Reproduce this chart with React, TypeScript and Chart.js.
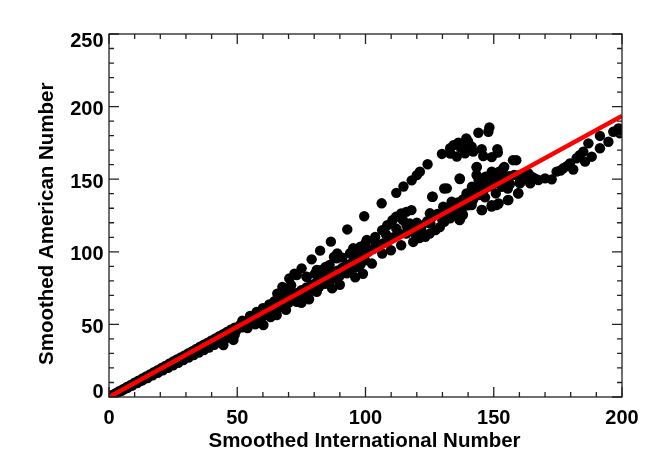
import React, { useEffect, useRef } from "react";
import { Chart, registerables } from "chart.js";

Chart.register(...registerables);

// ---- axis ranges and tick labels ----
const xRange = [0, 200];
const yRange = [0, 250];
const xTickLabels = ["0", "50", "100", "150", "200"];
const yTickLabels = ["0", "50", "100", "150", "200", "250"];
const xTitle = "Smoothed International Number";
const yTitle = "Smoothed American Number";

// ---- fitted line (red) ----
const fitX = [0, 200];
const fitY = [0, 193.5];

// ---- scatter points ----
const bandLow: [number, number][] = [
  [1, 1.1], [2.5, 2.5], [4, 4], [5.5, 5.4], [7, 6.9], [8.5, 8.3], [10, 9.8], [11.5, 11.3],
  [13, 12.7], [14.5, 14.2], [16, 15.6], [17.5, 17.1], [19, 18.5], [20.5, 20], [22, 21.4],
  [23.5, 22.9], [25, 24.4], [26.5, 25.8], [28, 27.3], [29.5, 28.7], [31, 30.2], [32.5, 31.6],
  [34, 33.1], [35.5, 34.6], [37, 36], [38.5, 37.4], [40, 38.9], [41.5, 40.4], [43, 41.9],
  [44.5, 43.3], [46, 44.8], [47.5, 46.3], [49, 47.7],
  [1.5, 1.2], [3, 2.7], [4.5, 4.1], [6, 5.5], [7.5, 6.8], [9, 8.2], [10.5, 9.6], [12, 11],
  [13.5, 12.3], [15, 13.7], [16.5, 15.1], [18, 16.5], [19.5, 17.8], [21, 19.2], [22.5, 20.6],
  [24, 22], [25.5, 23.3], [27, 24.7], [28.5, 26.1], [30, 27.5], [31.5, 28.8], [33, 30.2],
  [34.5, 31.6], [36, 33], [37.5, 34.3], [39, 35.7], [40.5, 37.1], [42, 38.4], [43.5, 39.9],
  [45, 41.2], [46.5, 42.6], [48, 44], [49.5, 45.4],
  [3, 2.6], [5, 4.4], [7, 6.1], [9, 7.9], [11, 9.6], [13, 11.4], [15, 13.1], [17, 14.9],
  [19, 16.6], [21, 18.4], [23, 20.1], [25, 21.9], [27, 23.6], [29, 25.4], [31, 27.1],
  [33, 28.9], [35, 30.6], [37, 32.4], [39, 34.1], [41, 35.9], [43, 37.6], [45, 39.4],
  [47, 41.1], [49, 42.9], [44.6, 35.8], [48.5, 39.3],
];

const bandMid: [number, number][] = [
  [51, 49.5], [53, 51.5], [55, 53.5], [57, 55.4], [59, 57.3], [61, 59.3], [63, 61.3],
  [65, 63.4], [67, 65.5], [69, 67.5], [71, 69.6], [73, 71.5], [75, 73.5], [77, 75.4],
  [79, 77.3], [81, 79.2], [83, 81.2], [85, 83.1], [87, 85.1], [89, 87], [91, 89], [93, 91],
  [95, 93], [97, 95], [99, 97],
  [52, 52.6], [55, 55.8], [57.5, 58.5], [60, 61.2], [62.5, 63.8], [64.5, 66],
  [60, 59.5], [63, 63.5], [66, 67], [68, 69.5], [70, 73], [71, 77], [72.3, 85], [70.3, 81.6],
  [67.6, 75.8], [65.6, 71.2], [77, 82.7], [80.3, 85], [82.4, 87.3], [84.4, 89.6], [87.7, 96.5],
  [89, 98.8], [86, 91], [91, 96], [94, 99], [96, 101], [98, 103.5], [100, 106],
  [81, 87.5], [88.8, 95.5], [95.2, 102.4], [100.5, 108.1], [77.1, 82.9], [73.2, 84],
  [52, 48], [54, 50], [56, 51.8], [58, 53.7], [60, 55.6], [62, 57.4], [64, 59.3], [66, 61.2],
  [68, 63], [70, 64.9], [72, 66.8], [74, 68.6], [76, 70.5], [78, 72.4], [80, 74.3], [82, 76.1],
  [84, 78], [86, 79.9], [88, 81.8], [90, 83.6], [92, 85.5], [94, 87.4], [96, 89.2], [98, 91.1],
  [54, 47.5], [57, 50], [60.2, 49.6], [63, 55], [65.4, 56.5], [69, 60], [73.2, 65.6], [75, 64.8],
  [78, 67.3], [81, 72.5], [84.9, 78.3], [87, 74.8], [90, 77.3], [92.7, 85.2], [96, 82.4], [99, 84.9],
];

const bandHigh: [number, number][] = [
  [99.8, 94.2], [102.5, 91.9], [106.5, 98.8], [109.9, 101.1], [113.9, 104.5], [118.6, 106.8],
  [123.3, 110.3], [127.3, 114.9], [130.7, 120.6], [136.7, 121.8], [103.8, 110.3], [106.5, 114.9],
  [108.5, 118.3], [110.5, 121.8], [111.9, 124.1], [113.9, 126.4], [115.9, 127.5], [117.9, 128.7],
  [114.6, 121.8], [117.2, 119.5], [113.2, 112.6], [115.9, 112.6], [121.9, 113.7], [125.3, 119.5],
  [130, 121.8], [131.3, 126.4], [133.3, 132.1], [137.4, 128.7], [138.7, 132.1], [139.4, 140.2],
  [141.5, 144.8], [144.1, 149.4], [146.8, 151.7], [149.5, 152.8], [152.1, 155.1], [154.1, 158.5],
  [157.5, 163.1], [158.8, 163.1], [136.7, 150.5], [130.7, 143.6], [126, 137.9], [145.4, 128.7],
  [149.2, 132.1], [151.9, 133.3], [155.5, 135.6], [150.8, 140.2], [155.5, 143.6], [159.5, 140.2],
  [160.2, 147.1], [162.8, 151.7], [164.2, 147.1], [163.5, 154], [160.2, 152.8],
  [101, 100], [103, 102], [105, 104], [107, 106], [109, 108], [111, 110], [104, 106], [108, 112],
  [112, 116], [116, 118], [119, 116], [120, 120], [122, 118], [124, 121], [126, 124], [128, 126],
  [132, 128], [134, 130], [136, 134], [138, 136], [140, 138], [142, 140], [143, 144], [145, 146],
  [147, 148], [140, 132], [142, 136], [144, 139], [146, 142], [148, 145], [150, 147], [152, 149],
  [154, 150], [156, 152], [158, 153], [119, 113], [121, 109.5], [125, 112.5], [129, 117],
  [133, 123], [135, 126], [138, 125.5],
  [156.3, 146.7], [153.1, 144.8], [155.7, 135.7], [159.6, 140.3], [151.1, 132.2], [149.2, 131.1],
  [145.3, 128.8], [136.8, 122.4], [141.4, 132.2], [146.6, 137.5], [133.6, 134.5], [130.3, 131.1],
  [125.1, 126.5], [150.5, 150.6], [154.4, 151.7], [160.2, 152.9], [162.8, 154.1], [164.8, 151.7],
  [164.1, 148.3], [160.2, 148.3], [149.2, 155.2], [153.7, 157.5], [143.3, 158.2], [143.3, 152.9],
  [136.8, 150.1], [131.7, 143.7], [126.2, 137.9],
];

const upperArm: [number, number][] = [
  [75.1, 88.6], [79, 94.8], [82.3, 100.8], [86.5, 107], [92.9, 115.4], [99.5, 124.5],
  [106.3, 133.4], [112, 140.6], [114.8, 145], [118, 149.2], [120, 152.8], [121.2, 155.2],
  [124.2, 160.3], [129.8, 167.4], [133, 171.3], [134.3, 173.5], [136.2, 175.2], [138.1, 174.6],
  [139.3, 178.1], [135.6, 165.6], [138.8, 167.8], [138.8, 171.3], [141.4, 172.4], [142, 169],
  [144, 182], [145.3, 170.6], [145.9, 166], [147.9, 182.7], [148.3, 185.6], [149.2, 165.2],
  [151.4, 170.6], [151.6, 168.4], [133.1, 167.7], [143.4, 158.5], [140, 176], [137, 172],
];

const rightArm: [number, number][] = [
  [166, 150.5], [167.4, 149.4], [170, 150.6], [172.6, 149.9], [174.5, 155.2], [177.1, 157.5],
  [179.7, 160.9], [181, 156.7], [182.3, 164.4], [184.9, 169], [186.9, 174.7], [185.6, 162.1],
  [188.2, 165.5], [191.4, 171.3], [191.4, 179.8], [194.7, 175.8], [196.6, 182.7], [198.6, 185],
  [199.2, 181.6], [178.5, 159], [183.5, 166.5], [176, 156],
];

const FONT = '"Liberation Sans", Arial, Helvetica, sans-serif';

const idlAxes = {
  id: "idlAxes",
  afterDraw(chart: any) {
    const { ctx, chartArea: a } = chart;
    const xs = chart.scales.x;
    const ys = chart.scales.y;
    ctx.save();
    ctx.strokeStyle = "#222";
    ctx.lineWidth = 1.3;
    ctx.strokeRect(a.left, a.top, a.right - a.left, a.bottom - a.top);
    ctx.beginPath();
    for (let v = xRange[0]; v <= xRange[1]; v += 10) {
      const px = xs.getPixelForValue(v);
      const len = v % 50 === 0 ? 10 : 5;
      ctx.moveTo(px, a.bottom);
      ctx.lineTo(px, a.bottom - len);
      ctx.moveTo(px, a.top);
      ctx.lineTo(px, a.top + len);
    }
    for (let v = yRange[0]; v <= yRange[1]; v += 10) {
      const py = ys.getPixelForValue(v);
      const len = v % 50 === 0 ? 10 : 5;
      ctx.moveTo(a.left, py);
      ctx.lineTo(a.left + len, py);
      ctx.moveTo(a.right, py);
      ctx.lineTo(a.right - len, py);
    }
    ctx.stroke();

    ctx.fillStyle = "#000";
    ctx.font = `bold 20px ${FONT}`;
    ctx.textAlign = "center";
    ctx.textBaseline = "alphabetic";
    xTickLabels.forEach((t) => {
      ctx.fillText(t, xs.getPixelForValue(parseFloat(t)), a.bottom + 27);
    });
    ctx.textAlign = "right";
    yTickLabels.forEach((t, i) => {
      const py = ys.getPixelForValue(parseFloat(t));
      let off = 8.3;
      if (i === 0) off = 1;
      if (i === yTickLabels.length - 1) off = 12.7;
      ctx.fillText(t, a.left - 5.5, py + off);
    });

    ctx.font = `bold 20.5px ${FONT}`;
    ctx.textAlign = "center";
    ctx.fillText(xTitle, (a.left + a.right) / 2 - 1, 446.7);

    ctx.translate(53.3, 365);
    ctx.rotate(-Math.PI / 2);
    ctx.textAlign = "left";
    ctx.fillText(yTitle, 0, 0);
    ctx.restore();
  },
};

export default function App() {
  const ref = useRef<HTMLCanvasElement | null>(null);
  useEffect(() => {
    if (!ref.current) return;
    const toPts = (arr: [number, number][]) => arr.map(([x, y]) => ({ x, y }));
    const points = [
      ...toPts(bandLow),
      ...toPts(bandMid),
      ...toPts(bandHigh),
      ...toPts(upperArm),
      ...toPts(rightArm),
    ];
    const chart = new Chart(ref.current, {
      type: "scatter",
      data: {
        datasets: [
          {
            type: "line",
            label: "fit",
            data: fitX.map((x, i) => ({ x, y: fitY[i] })),
            borderColor: "#ff0000",
            borderWidth: 4.5,
            pointRadius: 0,
            fill: false,
          } as any,
          {
            label: "points",
            data: points,
            backgroundColor: "#000",
            borderWidth: 0,
            pointRadius: 5.2,
            clip: 0,
          } as any,
        ],
      },
      options: {
        animation: false,
        responsive: false,
        devicePixelRatio: 1,
        layout: { padding: { left: 0, top: 34, right: 32, bottom: 0 } },
        plugins: { legend: { display: false }, tooltip: { enabled: false } },
        scales: {
          x: {
            type: "linear",
            min: xRange[0],
            max: xRange[1],
            ticks: { display: false, stepSize: 50 },
            grid: { display: false },
            border: { display: false },
            afterFit: (s: any) => {
              s.height = 70;
            },
          },
          y: {
            type: "linear",
            min: yRange[0],
            max: yRange[1],
            ticks: { display: false, stepSize: 50 },
            grid: { display: false },
            border: { display: false },
            afterFit: (s: any) => {
              s.width = 109;
            },
          },
        },
      },
      plugins: [idlAxes],
    });
    return () => chart.destroy();
  }, []);
  return (
    <div style={{ position: "absolute", left: 0, top: 0, width: 654, height: 467, background: "#fff" }}>
      <canvas ref={ref} width={654} height={467} />
    </div>
  );
}
